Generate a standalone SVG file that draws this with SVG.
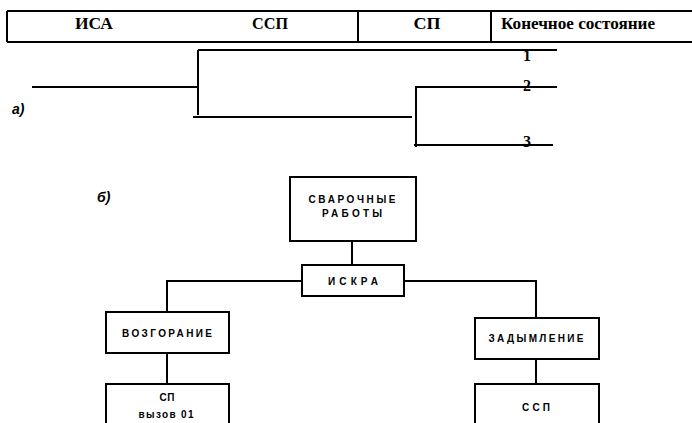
<svg xmlns="http://www.w3.org/2000/svg" width="692" height="423" viewBox="0 0 692 423">
  <style>
    .ln { stroke: #000; stroke-width: 2; fill: none; }
    .box { stroke: #000; stroke-width: 2; fill: #fff; }
    .hd { font-family: "Liberation Serif", "Times New Roman", serif; font-size: 16px; font-weight: bold; fill: #000; }
    .num { font-family: "Liberation Serif", "Times New Roman", serif; font-size: 16px; font-weight: bold; fill: #000; text-anchor: middle; }
    .lbl { font-family: "Liberation Sans", Arial, sans-serif; font-size: 14px; font-weight: bold; font-style: italic; fill: #000; }
    .nt { font-family: "Liberation Sans", Arial, sans-serif; font-size: 10px; font-weight: bold; fill: #000; text-anchor: middle; }
  </style>
  <rect width="692" height="423" fill="#fff"/>

  <!-- header table -->
  <g id="table">
    <path class="ln" d="M7 11 H692 M7 42 H692 M7 11 V42 M358 11 V42 M491 11 V42"/>
    <text class="hd" x="94" y="29" text-anchor="middle" textLength="38" lengthAdjust="spacingAndGlyphs">ИСА</text>
    <text class="hd" x="270" y="29" text-anchor="middle" textLength="36" lengthAdjust="spacingAndGlyphs">ССП</text>
    <text class="hd" x="427" y="29" text-anchor="middle" textLength="27" lengthAdjust="spacingAndGlyphs">СП</text>
    <text class="hd" x="501" y="29" font-weight="normal" textLength="154" lengthAdjust="spacingAndGlyphs">Конечное состояние</text>
  </g>

  <!-- event tree (a) -->
  <g id="tree-a">
    <text class="lbl" x="12" y="114">а)</text>
    <g id="branches" class="ln">
      <path d="M32 87 H198 M198 50 V115 M198 50 H557 M193 117 H412"/>
      <path d="M416 87 V147 M415 87 H557 M414 145 H553"/>
    </g>
    <text class="num" x="527" y="61">1</text>
    <text class="num" x="527" y="91">2</text>
    <text class="num" x="527" y="147">3</text>
  </g>

  <!-- fault chain (б) -->
  <text class="lbl" x="97" y="202">б)</text>

  <g id="connectors" class="ln">
    <path d="M352 241 V265"/>
    <path d="M302 281 H167 V312"/>
    <path d="M404 281 H536 V318"/>
    <path d="M167 353 V384"/>
    <path d="M536 359 V384"/>
  </g>

  <g id="welding">
    <rect class="box" x="290" y="177" width="126" height="64"/>
    <text class="nt" x="352" y="203" textLength="87" lengthAdjust="spacing">СВАРОЧНЫЕ</text>
    <text class="nt" x="352" y="217" textLength="60" lengthAdjust="spacing">РАБОТЫ</text>
  </g>

  <g id="spark">
    <rect class="box" x="302" y="265" width="102" height="31"/>
    <text class="nt" x="353" y="285" textLength="50" lengthAdjust="spacing">ИСКРА</text>
  </g>

  <g id="ignition">
    <rect class="box" x="106" y="312" width="123" height="41"/>
    <text class="nt" x="167" y="337" textLength="90" lengthAdjust="spacing">ВОЗГОРАНИЕ</text>
  </g>

  <g id="smoke">
    <rect class="box" x="475" y="318" width="124" height="41"/>
    <text class="nt" x="536" y="342" textLength="95" lengthAdjust="spacing">ЗАДЫМЛЕНИЕ</text>
  </g>

  <g id="fire-call">
    <rect class="box" x="106" y="384" width="123" height="60"/>
    <text class="nt" x="167" y="401" textLength="15" lengthAdjust="spacing">СП</text>
    <text class="nt" x="166" y="418" textLength="55" lengthAdjust="spacing">вызов 01</text>
  </g>

  <g id="alarm">
    <rect class="box" x="475" y="384" width="124" height="60"/>
    <text class="nt" x="536" y="411" textLength="28" lengthAdjust="spacing">ССП</text>
  </g>
</svg>
